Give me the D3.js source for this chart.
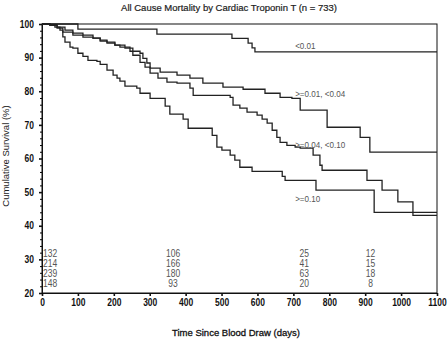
<!DOCTYPE html>
<html><head><meta charset="utf-8">
<script src="https://cdn.jsdelivr.net/npm/d3@7"></script>
<style>
html,body{margin:0;padding:0;background:#fff;}
text{font-family:"Liberation Sans",Arial,sans-serif;}
</style></head>
<body><svg id="c" width="448" height="340"></svg>
<script>
const title = "All Cause Mortality by Cardiac Troponin T (n = 733)";
const xLabel = "Time Since Blood Draw (days)";
const yLabel = "Cumulative Survival (%)";
const groups = ["<0.01", ">=0.01, <0.04", ">=0.04, <0.10", ">=0.10"];
const xTicks = [0,100,200,300,400,500,600,700,800,900,1000,1100];
const yTicks = [20,30,40,50,60,70,80,90,100];

const t1 = [0,100,320,529,574,585,593,1100];
const s1 = [100,98.5,97.0,95.7,94.3,92.9,91.7,91.7];

const t2 = [0,22,36,64,86,114,142,162,181,203,217,245,273,281,292,301,329,376,412,448,504,560,621,663,696,719,794,886,913,1100];
const s2 = [100,99.7,99.1,98.2,97.3,96.7,95.8,95.2,94.6,93.7,93.1,91.9,91.3,89.8,88.4,86.9,85.7,84.8,83.9,82.4,81.2,80.6,79.4,78.2,77.9,74.4,69.3,66.3,61.9,61.9];

const t3 = [0,22,42,58,86,114,142,162,181,203,231,253,273,287,301,323,348,376,412,421,524,532,551,571,599,613,627,641,654,663,682,705,719,755,774,780,905,947,991,1033,1100];
const s3 = [100,99.7,98.8,97.6,96.7,96.1,95.8,94.9,94.3,93.7,92.8,90.7,88.6,87.2,85.4,83.9,82.7,82.4,80.9,78.8,78.2,75.9,75.0,73.8,72.9,71.7,70.5,68.4,66.3,64.8,63.9,63.4,63.1,61.0,58.0,56.5,53.5,50.6,47.1,43.1,43.1];

const t4 = [0,22,42,50,58,64,78,86,100,114,128,153,162,181,198,209,217,231,264,273,301,343,356,393,407,474,487,501,524,537,551,585,669,677,763,925,1100];
const s4 = [100,99.7,99.1,98.2,96.2,94.6,93.1,92.8,91.3,90.4,89.2,88.9,88.0,86.3,84.8,83.9,83.0,81.5,80.9,79.4,77.9,75.6,73.2,71.7,69.0,66.9,63.4,62.5,61.0,59.5,57.4,56.2,54.7,53.5,50.6,44.0,44.0];

const riskTimes = [0,365,730,915];
const riskRows = [[132,106,25,12],[214,166,41,15],[239,180,63,18],[148,93,20,8]];

const labelDay = 705;
const labelY = [92.6, 78.2, 63.1, 47.0];

const svg = d3.select("#c");
const L=42, R=437, T=24, B=293;
const SX = 0.85;
const x = d3.scaleLinear().domain([0,1100]).range([L,R]);
const y = d3.scaleLinear().domain([20,100]).range([B,T]);

function narrowText(px, py, str, anchor, size, fill){
  return svg.append("g").attr("transform",`translate(${px},${py})`)
    .append("text").attr("transform",`scale(${SX},1)`).attr("text-anchor",anchor)
    .attr("font-size",size).attr("fill",fill).text(str);
}

svg.append("rect").attr("x",L).attr("y",T).attr("width",R-L).attr("height",B-T)
  .attr("fill","none").attr("stroke","#111").attr("stroke-width",1);

const xa = svg.append("g").attr("transform",`translate(0,${B})`)
  .call(d3.axisBottom(x).tickValues(xTicks).tickSize(3).tickPadding(3).tickFormat(d3.format("d")));
const ya = svg.append("g").attr("transform",`translate(${L},0)`)
  .call(d3.axisLeft(y).tickValues(yTicks).tickSize(3).tickPadding(0).tickFormat(d3.format("d")));
const yMinor = d3.range(20,100.1,2).filter(v=>v%10!==0);
svg.append("g").attr("transform",`translate(${L},0)`)
  .call(d3.axisLeft(y).tickValues(yMinor).tickSize(2).tickFormat(""))
  .call(g=>g.select(".domain").remove());
[xa,ya].forEach(a=>{
  a.selectAll("text").attr("font-size",10).attr("fill","#111").attr("font-weight","bold");
  a.select(".domain").attr("stroke","#111");
  a.selectAll(".tick line").attr("stroke","#111").attr("stroke-width",1.6);
});
xa.selectAll("text").attr("transform",`scale(${SX},1)`);
ya.selectAll("text").attr("x",-8/SX).attr("transform",`scale(${SX},1)`);

const series = [[t1,s1],[t2,s2],[t3,s3],[t4,s4]];
const line = d3.line().x(d=>x(d[0])).y(d=>y(d[1])).curve(d3.curveStepAfter);
series.forEach(([t,s])=>{
  svg.append("path").attr("d",line(t.map((v,i)=>[v,s[i]])))
    .attr("fill","none").attr("stroke","#222").attr("stroke-width",1.3);
});

groups.forEach((g,i)=>{
  narrowText(x(labelDay), y(labelY[i]), g, "start", 9.5, "#555");
});

riskRows.forEach((row,r)=>{
  row.forEach((v,c)=>{
    narrowText(c===0?x(riskTimes[c])+1:x(riskTimes[c]), 257+r*10, v, c===0?"start":"middle", 10, "#555");
  });
});

svg.append("text").attr("x",229).attr("y",11).attr("text-anchor","middle")
  .attr("font-size",9.5).attr("fill","#222").attr("stroke","#222").attr("stroke-width",0.2).text(title);
svg.append("text").attr("x",236).attr("y",336).attr("text-anchor","middle")
  .attr("font-size",9.5).attr("fill","#111").attr("stroke","#111").attr("stroke-width",0.3).text(xLabel);
svg.append("text").attr("transform","translate(9,156) rotate(-90)").attr("text-anchor","middle")
  .attr("font-size",9.5).attr("fill","#222").text(yLabel);
</script></body></html>
